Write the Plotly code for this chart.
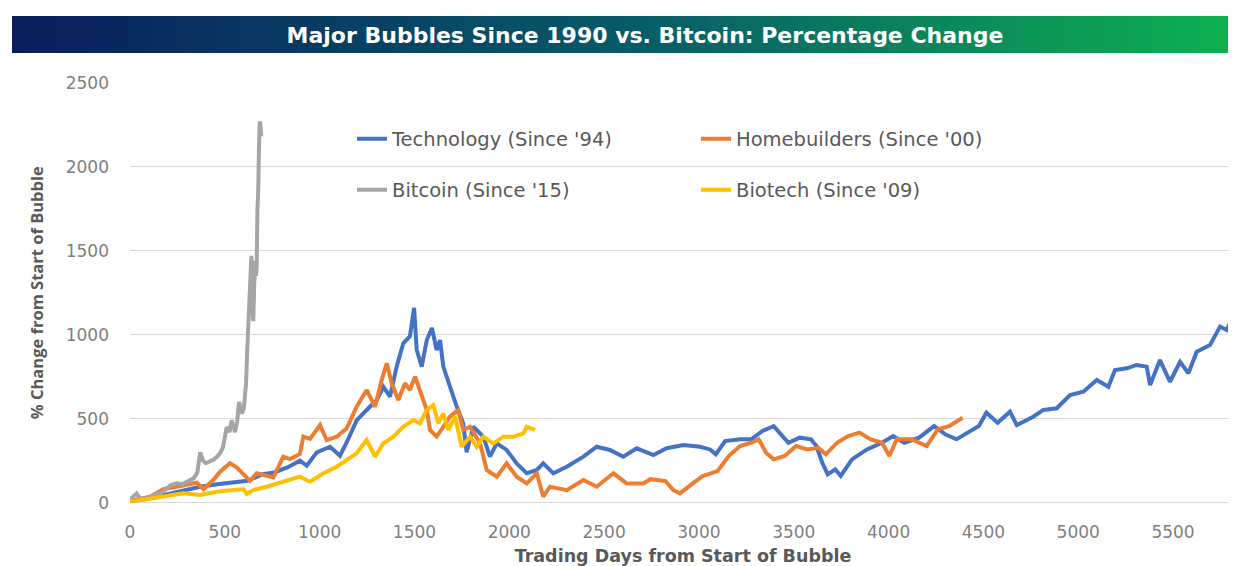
import plotly.graph_objects as go

# The page body adds an 8px offset; size the figure so it fills the window.
OFF = 8
W, H = 1236 - OFF, 566 - OFF

# ---------------- data ----------------
series_names = ["Technology (Since '94)", "Homebuilders (Since '00)",
                "Bitcoin (Since '15)", "Biotech (Since '09)"]
series_colors = ["#4472C4", "#ED7D31", "#A5A5A5", "#FFC000"]

days_tech = [0, 40, 100, 160, 220, 300, 370, 460, 545, 620,
             700, 760, 830, 896, 932, 985, 1055, 1107, 1143, 1195,
             1248, 1301, 1336, 1371, 1406, 1441, 1476, 1498, 1512, 1538,
             1565, 1592, 1617, 1635, 1652, 1687, 1723, 1757, 1775, 1810,
             1863, 1898, 1934, 1986, 2039, 2092, 2145, 2179, 2232, 2303,
             2391, 2461, 2531, 2601, 2672, 2760, 2830, 2918, 3006, 3059,
             3089, 3138, 3217, 3276, 3335, 3394, 3424, 3472, 3531, 3591,
             3620, 3650, 3679, 3719, 3748, 3807, 3886, 3965, 4024, 4083,
             4161, 4240, 4299, 4358, 4417, 4476, 4516, 4575, 4640, 4676,
             4763, 4816, 4887, 4957, 5027, 5098, 5159, 5194, 5256, 5308,
             5361, 5379, 5431, 5484, 5537, 5581, 5625, 5695, 5748, 5783,
             5830]
pct_tech = [0, 15, 25, 40, 55, 75, 95, 110, 120, 130,
            170, 180, 210, 250, 220, 300, 333, 280, 360, 490,
            552, 611, 690, 631, 810, 949, 990, 1160, 909, 810,
            968, 1040, 909, 968, 810, 690, 571, 473, 300, 452,
            393, 274, 353, 314, 234, 175, 195, 234, 175, 214,
            274, 333, 314, 274, 324, 284, 324, 343, 333, 317,
            288, 367, 377, 377, 427, 456, 417, 357, 387, 377,
            337, 238, 169, 198, 159, 258, 317, 357, 397, 357,
            387, 456, 407, 377, 417, 456, 536, 476, 542, 462,
            512, 552, 562, 641, 661, 730, 690, 790, 800, 820,
            810, 700, 849, 720, 839, 770, 899, 939, 1048, 1028,
            1140]

days_home = [0, 50, 105, 176, 246, 299, 352, 387, 439, 475,
             527, 562, 598, 633, 668, 721, 756, 808, 844, 896,
             914, 949, 1002, 1037, 1090, 1143, 1195, 1248, 1292, 1327,
             1354, 1380, 1415, 1450, 1476, 1503, 1538, 1565, 1582, 1617,
             1652, 1687, 1731, 1757, 1793, 1846, 1881, 1934, 1986, 2039,
             2092, 2145, 2179, 2215, 2303, 2391, 2461, 2549, 2619, 2707,
             2744, 2795, 2823, 2865, 2900, 2961, 3020, 3098, 3157, 3217,
             3276, 3315, 3354, 3394, 3453, 3512, 3571, 3630, 3669, 3728,
             3787, 3846, 3906, 3965, 4004, 4043, 4122, 4201, 4260, 4319,
             4390]
pct_home = [10, 20, 36, 80, 95, 105, 119, 80, 135, 185,
            235, 210, 165, 130, 175, 160, 150, 274, 260, 290,
            393, 380, 462, 373, 393, 443, 571, 671, 571, 730,
            830, 711, 611, 711, 671, 750, 631, 552, 433, 393,
            452, 512, 552, 433, 452, 353, 195, 155, 234, 155,
            115, 175, 36, 95, 75, 135, 95, 175, 115, 115,
            140, 135, 129, 75, 56, 109, 159, 188, 278, 337,
            357, 377, 298, 258, 278, 337, 317, 327, 288, 357,
            397, 417, 377, 357, 278, 377, 377, 337, 437, 456,
            506]

days_btc = [0, 20, 35, 50, 70, 100, 130, 160, 190, 215,
            245, 275, 300, 335, 355, 370, 385, 400, 420, 440,
            460, 475, 490, 510, 525, 536, 554, 565, 575, 590,
            600, 612, 618, 622, 628, 635, 640, 645, 650, 655,
            660, 664, 668, 672, 676, 680, 684, 688, 692]
pct_btc = [20, 40, 55, 30, 20, 35, 45, 55, 80, 105,
           115, 110, 125, 145, 180, 300, 250, 235, 245, 255,
           275, 295, 330, 450, 420, 490, 420, 480, 600, 530,
           560, 710, 900, 1010, 1150, 1250, 1470, 1200, 1080, 1300,
           1440, 1350, 1400, 1750, 1850, 2100, 2270, 2250, 2180]

days_bio = [0, 50, 105, 158, 220, 281, 369, 457, 545, 600,
            615, 650, 721, 808, 896, 949, 1020, 1090, 1143, 1195,
            1248, 1292, 1336, 1389, 1441, 1494, 1529, 1565, 1599, 1626,
            1652, 1679, 1714, 1749, 1793, 1828, 1863, 1916, 1969, 2021,
            2074, 2092, 2136]
pct_bio = [5, 15, 26, 36, 45, 56, 46, 65, 75, 80,
           52, 75, 95, 125, 155, 125, 175, 214, 254, 294,
           373, 274, 353, 393, 452, 492, 473, 552, 581, 473,
           532, 433, 512, 333, 393, 333, 393, 353, 393, 393,
           413, 452, 433]

x_ticks = [0, 500, 1000, 1500, 2000, 2500, 3000, 3500, 4000, 4500, 5000, 5500]
y_ticks = [0, 500, 1000, 1500, 2000, 2500]

title_text = "Major Bubbles Since 1990 vs. Bitcoin: Percentage Change"
x_title = "Trading Days from Start of Bubble"
y_title = "% Change from Start of Bubble"


# screen px -> paper fraction helpers
def px(sx):
    return (sx - OFF) / W


def py(sy):
    return 1 - (sy - OFF) / H


# ---------------- figure ----------------
fig = go.Figure()
legend_of = ["legend", "legend", "legend2", "legend2"]
xs = [days_tech, days_home, days_btc, days_bio]
ys = [pct_tech, pct_home, pct_btc, pct_bio]
for name, col, xv, yv, lg in zip(series_names, series_colors, xs, ys, legend_of):
    fig.add_trace(go.Scatter(x=xv, y=yv, mode="lines", name=name,
                             line=dict(color=col, width=4), legend=lg))

# gradient title banner (strips)
def lerp(a, b, t):
    return tuple(round(a[i] + (b[i] - a[i]) * t) for i in range(3))

stops = [(0.0, (9, 30, 92)), (0.5, (8, 90, 104)), (1.0, (14, 177, 80))]
N = 160
x0p, x1p = px(12), 1.0
y0p, y1p = py(53), py(16)
shapes = []
for i in range(N):
    t = (i + 0.5) / N
    for j in range(len(stops) - 1):
        if stops[j][0] <= t <= stops[j + 1][0]:
            tt = (t - stops[j][0]) / (stops[j + 1][0] - stops[j][0])
            c = lerp(stops[j][1], stops[j + 1][1], tt)
            break
    xa = x0p + (x1p - x0p) * i / N
    xb = x0p + (x1p - x0p) * (i + 1) / N + 0.0015
    shapes.append(dict(type="rect", xref="paper", yref="paper",
                       x0=xa, x1=min(xb, 1.0), y0=y0p, y1=y1p,
                       fillcolor="rgb(%d,%d,%d)" % c, line=dict(width=0),
                       layer="below"))

tick_font = dict(family="DejaVu Sans", size=17, color="#7f7f7f")
leg_font = dict(family="DejaVu Sans", size=19.5, color="#595959")

fig.update_layout(
    width=W, height=H,
    margin=dict(l=0, r=0, t=0, b=0),
    paper_bgcolor="white", plot_bgcolor="white",
    shapes=shapes,
    title=dict(text="<b>" + title_text + "</b>", x=px(645), y=py(35),
               xanchor="center", yanchor="middle", xref="paper", yref="paper",
               font=dict(family="DejaVu Sans", size=22, color="white")),
    xaxis=dict(domain=[px(130), 1.0], range=[0, 5832], tickvals=x_ticks,
               showgrid=False, zeroline=False, showline=False, ticks="",
               tickfont=tick_font, ticklabelstandoff=17, automargin=False,
               title=dict(text="<b>" + x_title + "</b>",
                          font=dict(family="DejaVu Sans", size=17.5, color="#595959"),
                          standoff=10)),
    yaxis=dict(domain=[py(502.7), py(82.7)], range=[0, 2500],
               tickvals=y_ticks, showgrid=True, gridcolor="#d9d9d9", gridwidth=1,
               zeroline=True, zerolinecolor="#d9d9d9", zerolinewidth=1,
               showline=False, ticks="", tickfont=tick_font,
               ticklabelstandoff=20, automargin=False,
               title=dict(text="<b>" + y_title + "</b>",
                          font=dict(family="Open Sans", size=16.5, color="#595959"),
                          standoff=17)),
    legend=dict(orientation="h", x=px(352), y=py(139), xanchor="left",
                yanchor="middle", entrywidth=299, entrywidthmode="pixels",
                font=leg_font, bgcolor="rgba(0,0,0,0)", itemwidth=30),
    legend2=dict(orientation="h", x=px(352), y=py(190), xanchor="left",
                 yanchor="middle", entrywidth=299, entrywidthmode="pixels",
                 font=leg_font, bgcolor="rgba(0,0,0,0)", itemwidth=30),
    showlegend=True,
)

fig.write_html("out.html")
